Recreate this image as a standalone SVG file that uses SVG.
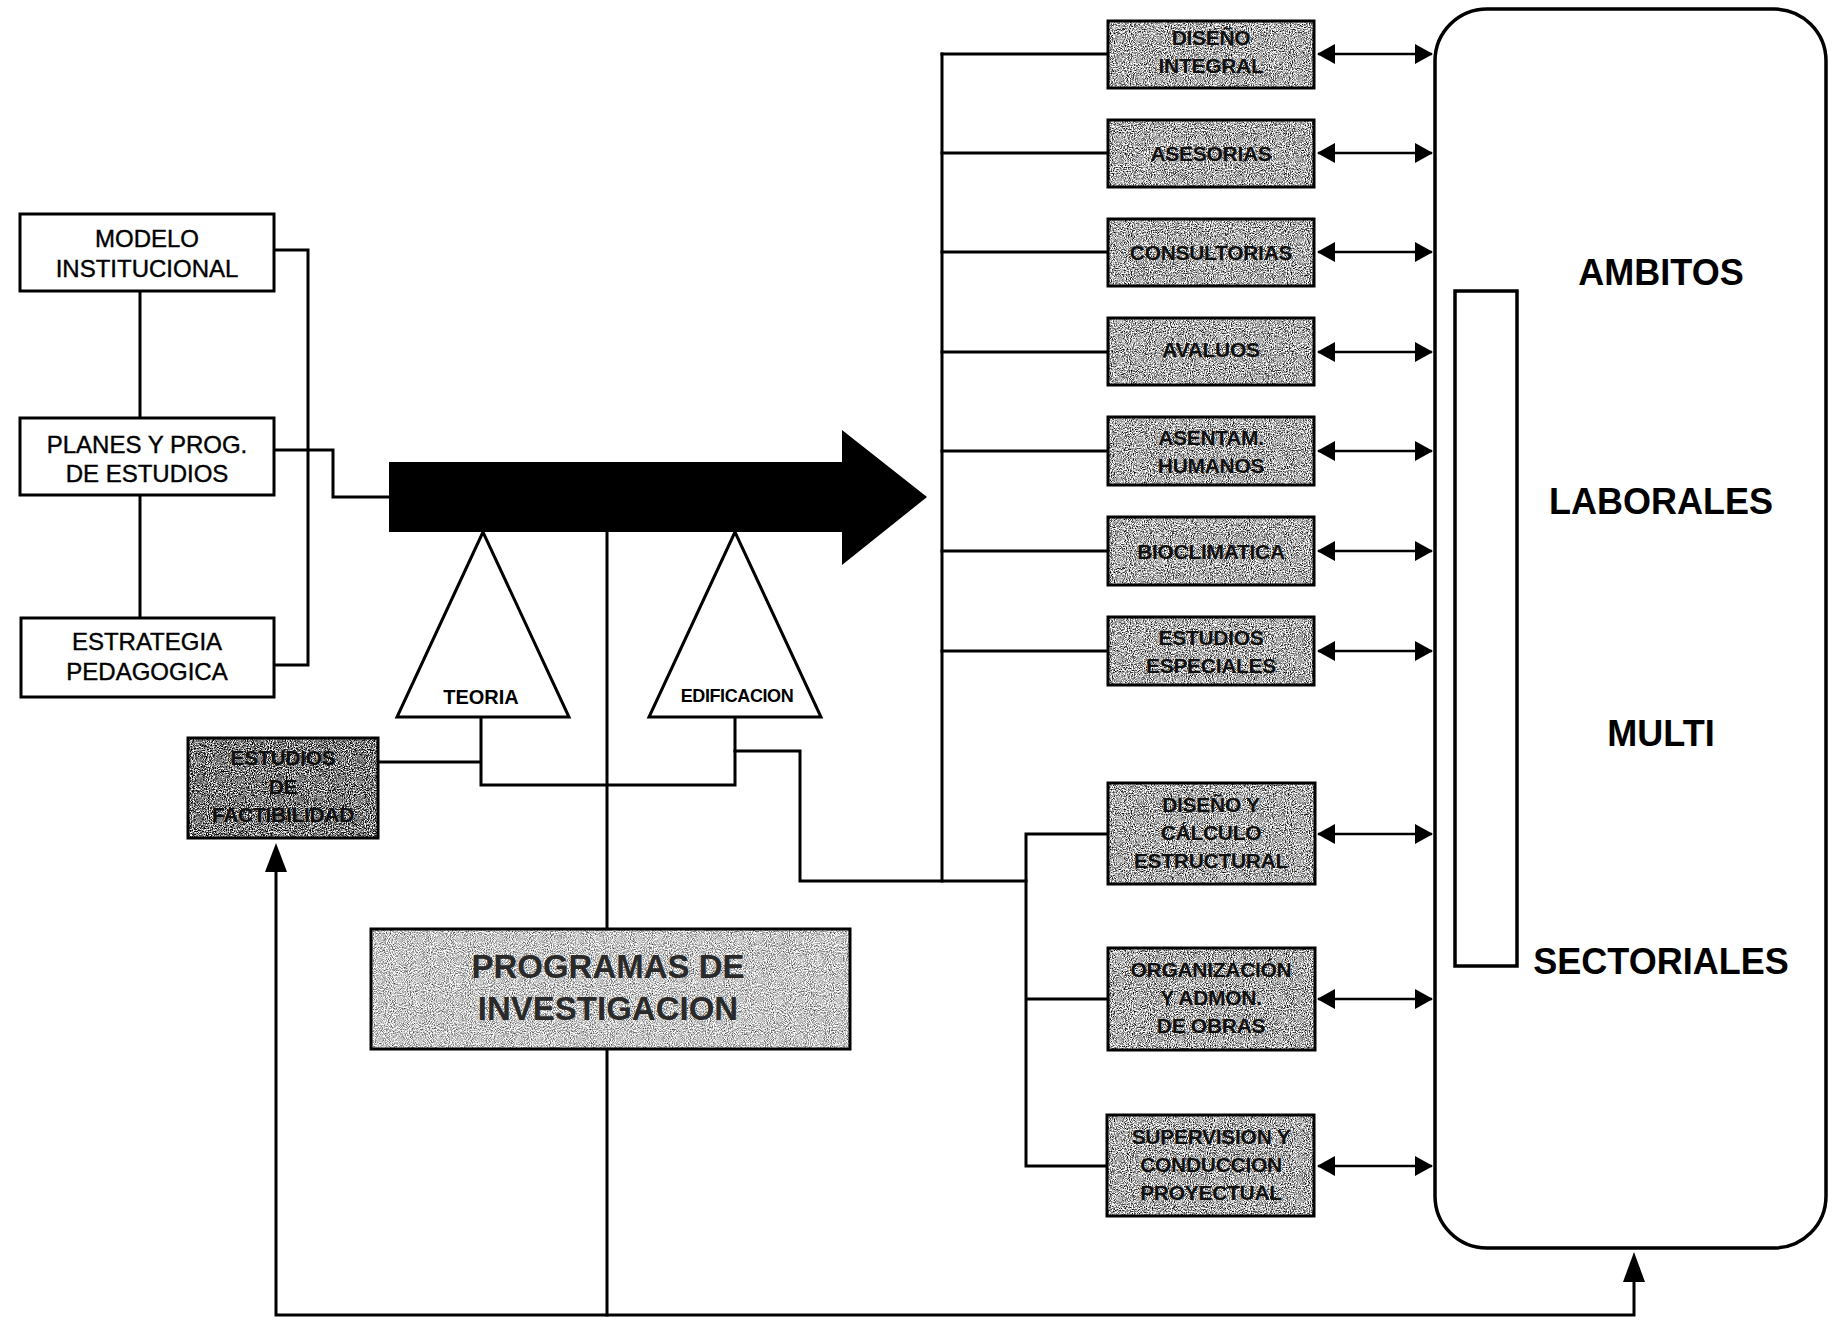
<svg xmlns="http://www.w3.org/2000/svg" width="1833" height="1323" viewBox="0 0 1833 1323">
  <style>
    .box { fill: #ffffff; stroke: #000; stroke-width: 3; }
    .frame { fill: none; stroke: #000; stroke-width: 3.5; }
    .wire { fill: none; stroke: #000; stroke-width: 3; stroke-linecap: square; }
    .dbl { fill: none; stroke: #000; stroke-width: 2.5; marker-start: url(#head); marker-end: url(#head); }
    .lbl { font-family: "Liberation Sans", Arial, sans-serif; font-size: 24px; fill: #000; text-anchor: middle; stroke: #000; stroke-width: 0.4px; }
    .tri { font-family: "Liberation Sans", Arial, sans-serif; font-weight: bold; fill: #000; text-anchor: middle; }
    .svc { font-family: "Liberation Sans", Arial, sans-serif; font-size: 21px; font-weight: bold; fill: #111; text-anchor: middle; letter-spacing: -0.3px; }
    .big { font-family: "Liberation Sans", Arial, sans-serif; font-size: 36px; font-weight: bold; fill: #000; text-anchor: middle; }
    .prog { font-family: "Liberation Sans", Arial, sans-serif; font-size: 33px; font-weight: bold; fill: #2a2a2a; text-anchor: middle; }
  </style>
  <defs>
    <marker id="head" viewBox="0 0 18 20" refX="17" refY="10" markerWidth="18" markerHeight="20" markerUnits="userSpaceOnUse" orient="auto-start-reverse">
      <path d="M0,0 L18,10 L0,20 Z" fill="#000"/>
    </marker>
    <!-- speckled grey fills for the shaded boxes -->
    <filter id="grainMid" x="0" y="0" width="100%" height="100%" color-interpolation-filters="sRGB">
      <feTurbulence type="fractalNoise" baseFrequency="0.95" numOctaves="2" seed="4"/>
      <feColorMatrix type="matrix" values="2.4 0 0 0 -0.52  2.4 0 0 0 -0.52  2.4 0 0 0 -0.52  0 0 0 0 1"/>
      <feComposite in2="SourceGraphic" operator="in"/>
    </filter>
    <filter id="grainLight" x="0" y="0" width="100%" height="100%" color-interpolation-filters="sRGB">
      <feTurbulence type="fractalNoise" baseFrequency="0.95" numOctaves="2" seed="9"/>
      <feColorMatrix type="matrix" values="1.6 0 0 0 -0.02  1.6 0 0 0 -0.02  1.6 0 0 0 -0.02  0 0 0 0 1"/>
      <feComposite in2="SourceGraphic" operator="in"/>
    </filter>
    <filter id="grainDark" x="0" y="0" width="100%" height="100%" color-interpolation-filters="sRGB">
      <feTurbulence type="fractalNoise" baseFrequency="0.95" numOctaves="2" seed="2"/>
      <feColorMatrix type="matrix" values="2.6 0 0 0 -0.82  2.6 0 0 0 -0.82  2.6 0 0 0 -0.82  0 0 0 0 1"/>
      <feComposite in2="SourceGraphic" operator="in"/>
    </filter>
  </defs>

  <rect width="1833" height="1323" fill="#ffffff"/>

  <!-- connectors -->
  <g id="connectors">
    <path class="wire" d="M140,291 V418 M140,495 V618"/>
    <path class="wire" d="M274,250 H308 V665 H274"/>
    <path class="wire" d="M274,450 H333 V497 H390"/>
    <path class="wire" d="M607,532 V929 M607,1049 V1315"/>
    <path class="wire" d="M276,870 V1315 H1634 V1280"/>
    <path d="M276,843 L265,872 L287,872 Z" fill="#000"/>
    <path d="M1634,1252 L1623,1282 L1645,1282 Z" fill="#000"/>
    <path class="wire" d="M378,762 H481 M481,717 V785 H735 V717"/>
    <path class="wire" d="M735,751 H800 V881 H1026"/>
    <path class="wire" d="M942,54 V881"/>
    <path class="wire" d="M942,54 H1108 M942,153 H1108 M942,252 H1108 M942,352 H1108 M942,451 H1108 M942,551 H1108 M942,651 H1108"/>
    <path class="wire" d="M1026,834 V1166 M1026,834 H1108 M1026,999 H1108 M1026,1166 H1108"/>
    <line class="dbl" x1="1318" y1="54" x2="1432" y2="54"/>
    <line class="dbl" x1="1318" y1="153" x2="1432" y2="153"/>
    <line class="dbl" x1="1318" y1="252" x2="1432" y2="252"/>
    <line class="dbl" x1="1318" y1="352" x2="1432" y2="352"/>
    <line class="dbl" x1="1318" y1="451" x2="1432" y2="451"/>
    <line class="dbl" x1="1318" y1="551" x2="1432" y2="551"/>
    <line class="dbl" x1="1318" y1="651" x2="1432" y2="651"/>
    <line class="dbl" x1="1318" y1="834" x2="1432" y2="834"/>
    <line class="dbl" x1="1318" y1="999" x2="1432" y2="999"/>
    <line class="dbl" x1="1318" y1="1166" x2="1432" y2="1166"/>
  </g>

  <!-- left column -->
  <g id="modelo">
    <rect class="box" x="20" y="214" width="254" height="77"/>
    <text class="lbl" x="147" y="247">MODELO</text>
    <text class="lbl" x="147" y="277">INSTITUCIONAL</text>
  </g>
  <g id="planes">
    <rect class="box" x="20" y="418" width="254" height="77"/>
    <text class="lbl" x="147" y="453">PLANES Y PROG.</text>
    <text class="lbl" x="147" y="482">DE ESTUDIOS</text>
  </g>
  <g id="estrategia">
    <rect class="box" x="21" y="618" width="253" height="79"/>
    <text class="lbl" x="147" y="650">ESTRATEGIA</text>
    <text class="lbl" x="147" y="680">PEDAGOGICA</text>
  </g>

  <!-- main arrow -->
  <g id="flecha">
    <polygon points="389,462 842,462 842,430 927,497 842,565 842,532 389,532" fill="#000"/>
  </g>

  <!-- supports under the arrow -->
  <g id="teoria">
    <polygon points="483,532 397,717 569,717" fill="#fff" stroke="#000" stroke-width="3" stroke-linejoin="miter"/>
    <text class="tri" x="481" y="704" font-size="20">TEORIA</text>
  </g>
  <g id="edificacion">
    <polygon points="735,532 649,717 821,717" fill="#fff" stroke="#000" stroke-width="3" stroke-linejoin="miter"/>
    <text class="tri" x="737" y="702" font-size="18" letter-spacing="-0.4">EDIFICACION</text>
  </g>

  <g id="factibilidad">
    <rect x="188" y="738" width="190" height="100" fill="#777" filter="url(#grainDark)"/>
    <rect x="188" y="738" width="190" height="100" fill="none" stroke="#000" stroke-width="3"/>
    <text class="svc" x="283" y="765" font-size="19" fill="#0a0a0a">ESTUDIOS</text>
    <text class="svc" x="283" y="794" font-size="19" fill="#0a0a0a">DE</text>
    <text class="svc" x="283" y="822" font-size="19" fill="#0a0a0a">FACTIBILIDAD</text>
  </g>

  <g id="programas">
    <rect x="371" y="929" width="479" height="120" fill="#ddd" filter="url(#grainLight)"/>
    <rect x="371" y="929" width="479" height="120" fill="none" stroke="#000" stroke-width="3"/>
    <text class="prog" x="608" y="978">PROGRAMAS DE</text>
    <text class="prog" x="608" y="1020">INVESTIGACION</text>
  </g>

  <!-- service boxes -->
  <g id="s1">
    <rect x="1108" y="21" width="206" height="67" fill="#bbb" filter="url(#grainMid)"/>
    <rect x="1108" y="21" width="206" height="67" fill="none" stroke="#000" stroke-width="3"/>
    <text class="svc" x="1211" y="45">DISEÑO</text>
    <text class="svc" x="1211" y="73">INTEGRAL</text>
  </g>
  <g id="s2">
    <rect x="1108" y="120" width="206" height="67" fill="#bbb" filter="url(#grainMid)"/>
    <rect x="1108" y="120" width="206" height="67" fill="none" stroke="#000" stroke-width="3"/>
    <text class="svc" x="1211" y="161">ASESORIAS</text>
  </g>
  <g id="s3">
    <rect x="1108" y="219" width="206" height="67" fill="#bbb" filter="url(#grainMid)"/>
    <rect x="1108" y="219" width="206" height="67" fill="none" stroke="#000" stroke-width="3"/>
    <text class="svc" x="1211" y="260">CONSULTORIAS</text>
  </g>
  <g id="s4">
    <rect x="1108" y="318" width="206" height="67" fill="#bbb" filter="url(#grainMid)"/>
    <rect x="1108" y="318" width="206" height="67" fill="none" stroke="#000" stroke-width="3"/>
    <text class="svc" x="1211" y="357">AVALUOS</text>
  </g>
  <g id="s5">
    <rect x="1108" y="417" width="206" height="68" fill="#bbb" filter="url(#grainMid)"/>
    <rect x="1108" y="417" width="206" height="68" fill="none" stroke="#000" stroke-width="3"/>
    <text class="svc" x="1211" y="445">ASENTAM.</text>
    <text class="svc" x="1211" y="473">HUMANOS</text>
  </g>
  <g id="s6">
    <rect x="1108" y="517" width="206" height="68" fill="#bbb" filter="url(#grainMid)"/>
    <rect x="1108" y="517" width="206" height="68" fill="none" stroke="#000" stroke-width="3"/>
    <text class="svc" x="1211" y="559">BIOCLIMATICA</text>
  </g>
  <g id="s7">
    <rect x="1108" y="617" width="206" height="68" fill="#bbb" filter="url(#grainMid)"/>
    <rect x="1108" y="617" width="206" height="68" fill="none" stroke="#000" stroke-width="3"/>
    <text class="svc" x="1211" y="645">ESTUDIOS</text>
    <text class="svc" x="1211" y="673">ESPECIALES</text>
  </g>
  <g id="s8">
    <rect x="1108" y="783" width="207" height="101" fill="#bbb" filter="url(#grainMid)"/>
    <rect x="1108" y="783" width="207" height="101" fill="none" stroke="#000" stroke-width="3"/>
    <text class="svc" x="1211" y="812">DISEÑO Y</text>
    <text class="svc" x="1211" y="840">CÁLCULO</text>
    <text class="svc" x="1211" y="868">ESTRUCTURAL</text>
  </g>
  <g id="s9">
    <rect x="1108" y="948" width="207" height="102" fill="#bbb" filter="url(#grainMid)"/>
    <rect x="1108" y="948" width="207" height="102" fill="none" stroke="#000" stroke-width="3"/>
    <text class="svc" x="1211" y="977">ORGANIZACIÓN</text>
    <text class="svc" x="1211" y="1005">Y ADMON.</text>
    <text class="svc" x="1211" y="1033">DE OBRAS</text>
  </g>
  <g id="s10">
    <rect x="1107" y="1115" width="207" height="101" fill="#bbb" filter="url(#grainMid)"/>
    <rect x="1107" y="1115" width="207" height="101" fill="none" stroke="#000" stroke-width="3"/>
    <text class="svc" x="1211" y="1144">SUPERVISION Y</text>
    <text class="svc" x="1211" y="1172">CONDUCCION</text>
    <text class="svc" x="1211" y="1200">PROYECTUAL</text>
  </g>

  <!-- working fields panel -->
  <g id="ambitos">
    <rect class="frame" x="1435" y="9" width="391" height="1239" rx="52" ry="52"/>
    <rect class="frame" x="1455" y="291" width="62" height="675"/>
    <text class="big" x="1661" y="285">AMBITOS</text>
    <text class="big" x="1661" y="514">LABORALES</text>
    <text class="big" x="1661" y="746">MULTI</text>
    <text class="big" x="1661" y="974">SECTORIALES</text>
  </g>
</svg>
